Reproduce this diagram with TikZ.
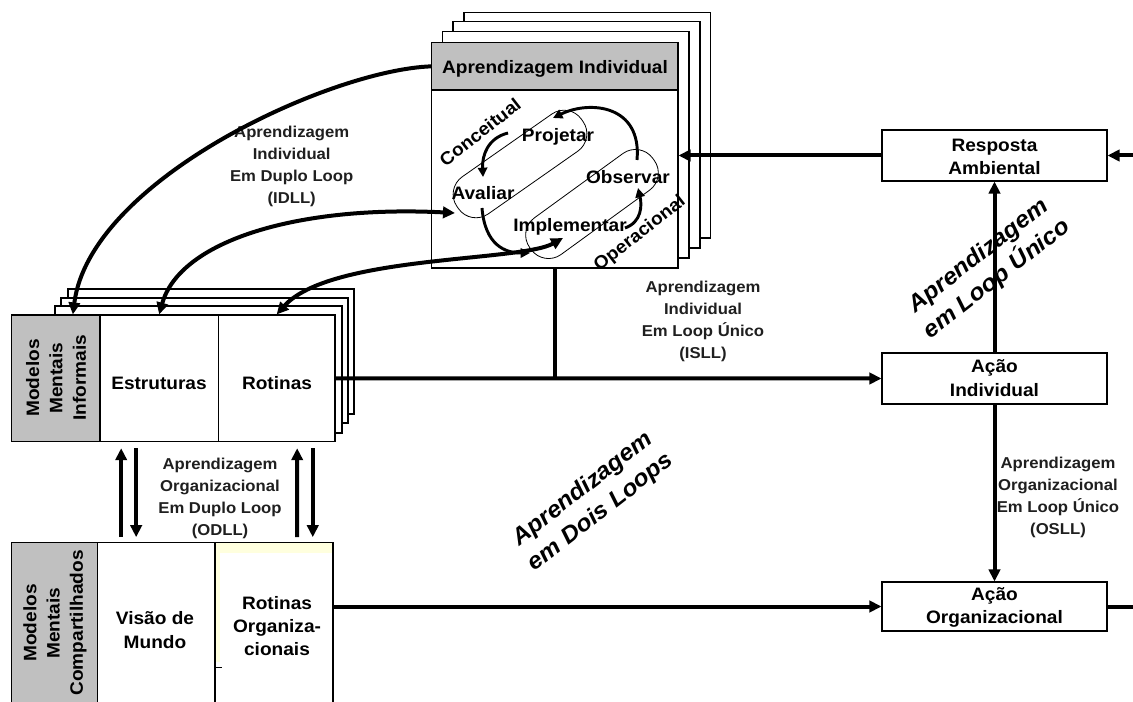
\documentclass[tikz,border=0pt]{standalone}
\usepackage{fontspec}
\setmainfont{Liberation Sans}[FakeStretch=1.06]
\usetikzlibrary{arrows.meta,fit,calc}
\definecolor{hdr}{RGB}{192,192,192}
\definecolor{pyel}{RGB}{255,255,222}
\begin{document}
\begin{tikzpicture}[x=0.75pt,y=-0.75pt,
  box/.style={draw, line width=0.8pt, inner sep=0pt, fill=white},
  grayc/.style={box, fill=hdr},
  bl/.style={font=\bfseries\fontsize{13.5}{17.5}\selectfont, align=center, text=black, inner sep=0pt},
  ann/.style={font=\bfseries\fontsize{11.8}{16.5}\selectfont, align=center, text=black!88},
  big/.style={font=\bfseries\itshape\fontsize{17.5}{22}\selectfont, align=center},
  stad/.style={draw, line width=0.6pt, rounded corners=16pt, minimum width=114pt, minimum height=34pt, inner sep=0pt},
  thk/.style={line width=3pt},
  arr/.style={thk, -{Triangle[length=9pt,width=8.5pt]}},
  darr/.style={thk, {Triangle[length=9pt,width=8.5pt]}-{Triangle[length=9pt,width=8.5pt]}},
  sarr/.style={line width=2.2pt, -{Triangle[length=7pt,width=7pt]}},
]
\fill[white] (0,0) rectangle (1133,702);
\useasboundingbox (0,0) rectangle (1133,702);

% ---------- Aprendizagem Individual stack ----------
\draw[box] (464,12.7) rectangle (710.7,238);
\draw[box] (453,21.7) rectangle (700,248);
\draw[box] (442.7,31.7) rectangle (689,258);
\node[box, fit={(431.7,42.7)(678,268)}] (aibox) {};
\node[grayc, fit={(431.7,42.7)(678,90)}] (aihead) {};
\node[bl] (aiheadt) at (555,69) {Aprendizagem Individual};

\node[stad, rotate=35] (cstad) at (520,164) {};
\node[stad, rotate=36] (ostad) at (592,204) {};

\node[bl] (pj) at (558,137) {Projetar};
\node[bl] (av) at (483,193) {Avaliar};
\node[bl] (ob) at (628,177) {Observar};
\node[bl] (im) at (570,227) {Implementar};
\node[bl, rotate=38] (conc) at (480,132) {Conceitual};
\node[bl, rotate=38] (oper) at (640,234) {Operacional};

\coordinate (obtop) at (637,160);
\coordinate (pjin) at (553,118);
\coordinate (pjl) at (508,133);
\coordinate (avtop) at (483,177);
\coordinate (avbot) at (482,208);
\coordinate (imjoin) at (530,253);
\coordinate (imr) at (625,228);
\coordinate (obbot) at (638,188);
\coordinate (avin) at (455,213);
\coordinate (imin) at (563,238);

\draw[sarr] (obtop) .. controls (642,105) and (590,100) .. (pjin);
\draw[sarr] (pjl) .. controls (488,138) and (482,155) .. (avtop);
\draw[sarr] (avbot) .. controls (485,245) and (505,253) .. (imjoin);
\draw[sarr] (imr) .. controls (642,222) and (642,205) .. (obbot);

% ---------- Modelos Mentais Informais stack ----------
\draw[box] (68,289) rectangle (354,414);
\draw[box] (61,298) rectangle (348,423);
\draw[box] (55,306) rectangle (342,433);
\node[grayc, fit={(11.7,315)(100,441.7)}] (mmig) {};
\node[box, fit={(100,315)(218.3,441.7)}] (estr) {};
\node[box, fit={(218.3,315)(335,441.7)}] (rot) {};
\node[bl] (estrt) at (159,383) {Estruturas};
\node[bl] (rott) at (277,383) {Rotinas};
\node[bl, rotate=90] (mmit) at (56,378) {Modelos\\Mentais\\Informais};

% ---------- Modelos Mentais Compartilhados ----------
\node[grayc, fit={(11.7,542.7)(97.7,712)}] (mmcg) {};
\node[box, fit={(97.7,542.7)(215,712)}] (visao) {};
\node[box, fit={(215,542.7)(333,712)}] (rotorg) {};
\fill[pyel] (215.6,543.3) rectangle (332.4,553);
\fill[pyel] (215.6,543.3) rectangle (220,662);
\draw[line width=0.6pt] (215,667) -- (222,667);
\node[bl] (vm) at (155,630) {Visão de\\Mundo};
\node[bl] (ro) at (277,626) {Rotinas\\Organiza-\\cionais};
\node[bl, rotate=90] (mmct) at (55,623) {Modelos\\Mentais\\Compartilhados};

% ---------- right boxes ----------
\node[box, fit={(882,130)(1107,181)}] (resp) {};
\node[box, fit={(882,353)(1107,404)}] (acind) {};
\node[box, fit={(882,582)(1107,631)}] (acorg) {};
\node[bl] (respt) at (994.5,157) {Resposta\\Ambiental};
\node[bl] (acindt) at (994.5,378) {Ação\\Individual};
\node[bl] (acorgt) at (994.5,607.5) {Ação\\Organizacional};
\coordinate (rin) at (1133,155.5);
\coordinate (rout) at (1133,606.5);

% ---------- labels ----------
\node[ann] (idll) at (291.7,166.5) {Aprendizagem\\Individual\\Em Duplo Loop\\(IDLL)};
\node[ann] (isll) at (703,321) {Aprendizagem\\Individual\\Em Loop Único\\(ISLL)};
\node[ann] (odll) at (220,498.5) {Aprendizagem\\Organizacional\\Em Duplo Loop\\(ODLL)};
\node[ann] (osll) at (1058,497.5) {Aprendizagem\\Organizacional\\Em Loop Único\\(OSLL)};
\node[big, rotate=38] (lu) at (988,268) {Aprendizagem\\em Loop Único};
\node[big, rotate=38] (dl) at (592,501) {Aprendizagem\\em Dois Loops};

% ---------- connectors ----------
\draw[arr] (rin) -- (resp.east);
\draw[arr] (resp.west) -- (aibox.east |- resp.west);
\draw[arr] (acind.north) -- (resp.south);
\draw[arr] (acind.south) -- (acorg.north);
\draw[thk] (acorg.east) -- (rout);
\draw[arr] (rotorg.east |- acorg.west) -- (acorg.west);
\draw[arr] (rot.east) -- (acind.west);
\draw[thk] (aibox.south) -- (aibox.south |- rot.east);

\draw[arr] (aihead.west) .. controls (330,70) and (90,180) .. ($(mmig.north)+(17,0)$);
\draw[darr] (estr.north) .. controls (180,240) and (300,205) .. (avin);
\draw[darr] (rot.north) .. controls (330,255) and (520,262) .. (imin);

\draw[arr] ($(visao.north west)+(24,-5)$) -- ($(estr.south west)+(21.7,6)$);
\draw[arr] ($(estr.south west)+(36.7,6)$) -- ($(visao.north west)+(39,-5)$);
\draw[arr] ($(rotorg.north west)+(82.7,-5)$) -- ($(rot.south west)+(79.4,6)$);
\draw[arr] ($(rot.south west)+(95,6)$) -- ($(rotorg.north west)+(98.3,-5)$);
\end{tikzpicture}
\end{document}
